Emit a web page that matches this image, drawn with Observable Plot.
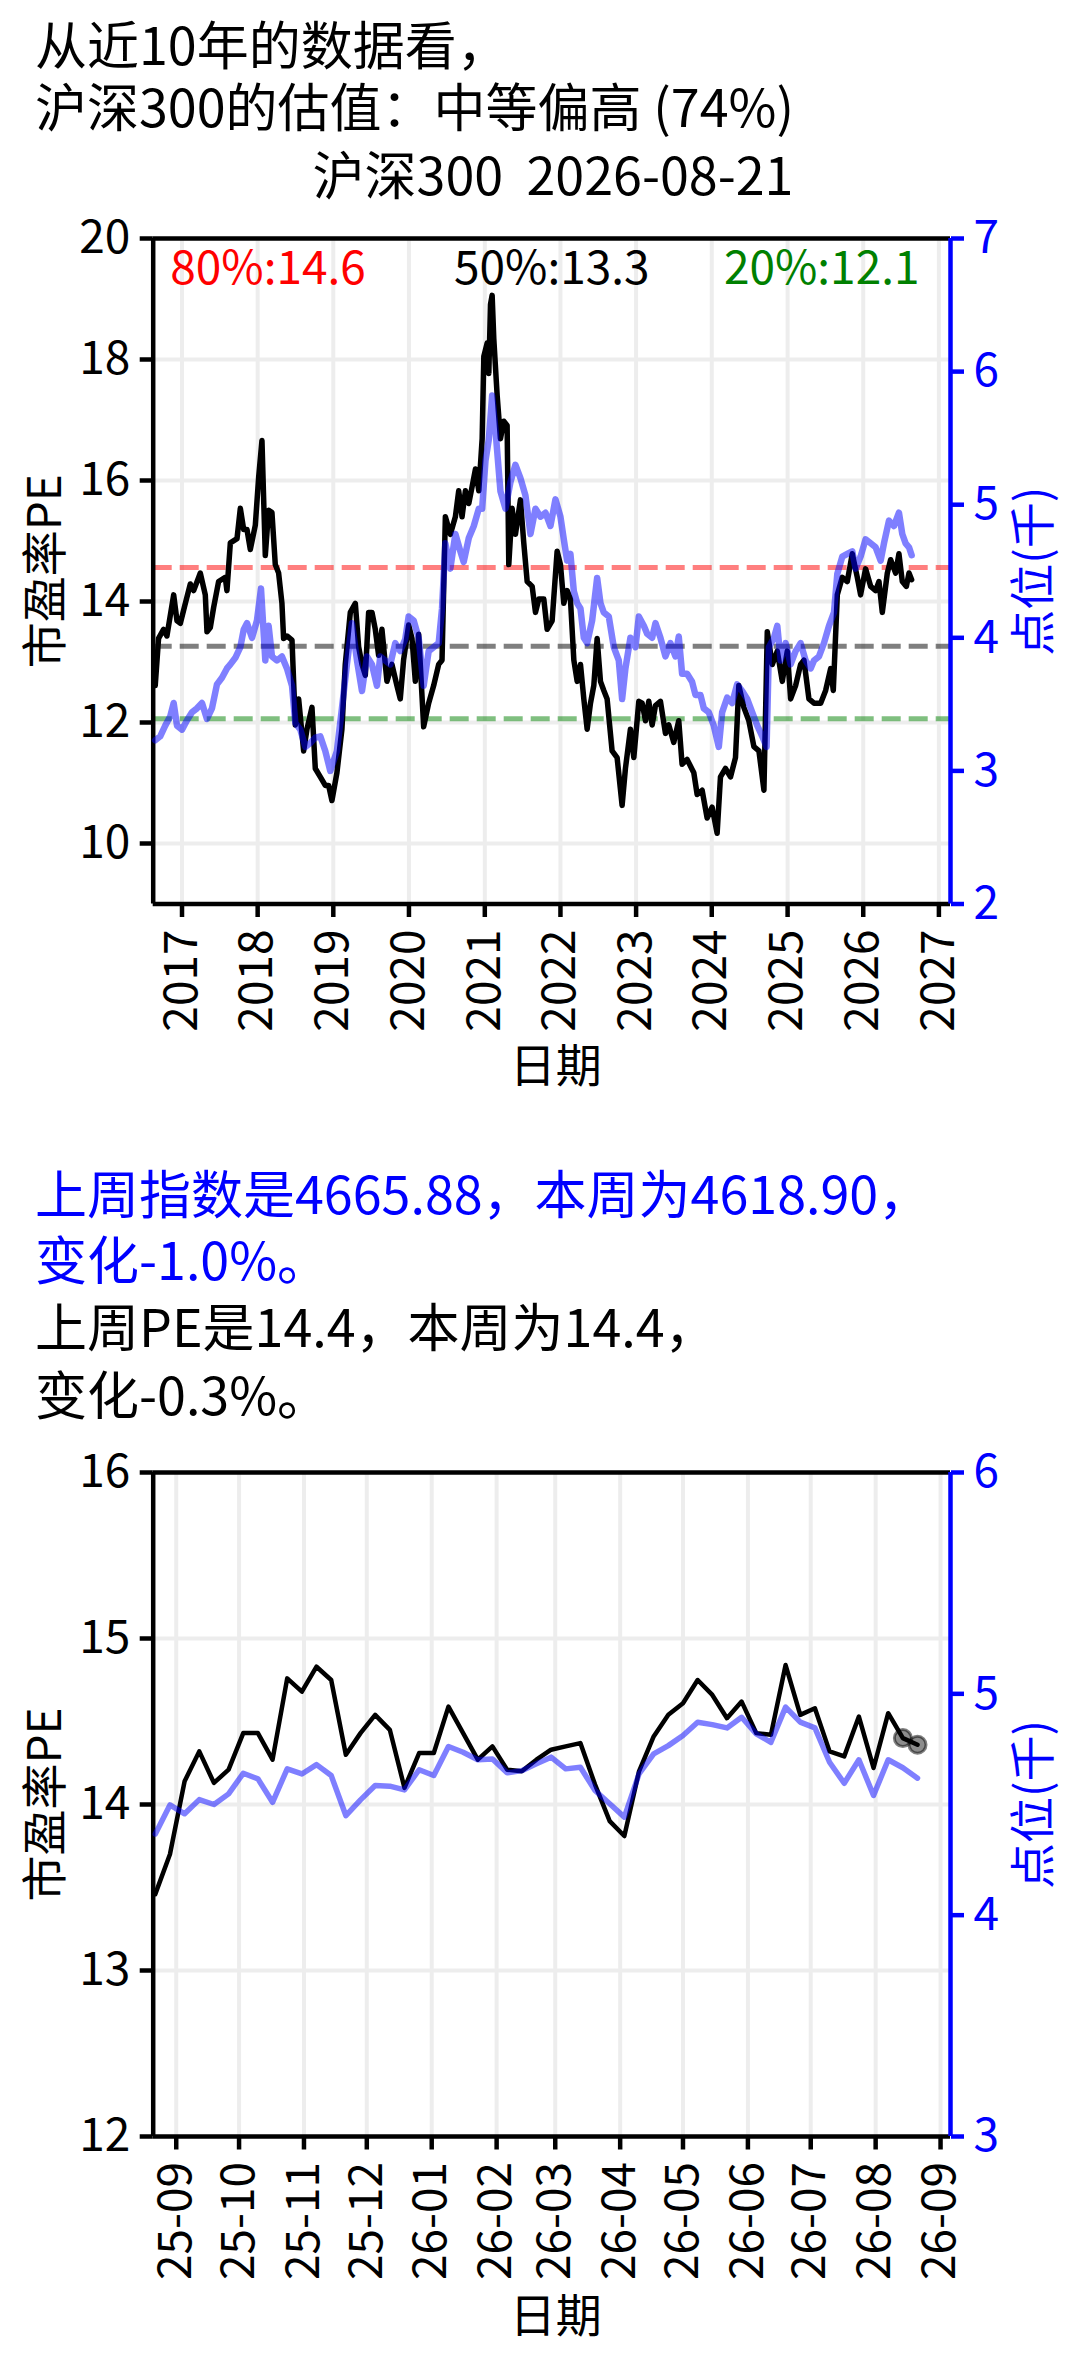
<!DOCTYPE html>
<html>
<head>
<meta charset="utf-8">
<script src="https://cdn.jsdelivr.net/npm/d3@7"></script>
<script src="https://cdn.jsdelivr.net/npm/@observablehq/plot@0.6"></script>
<style>
  html, body { margin: 0; padding: 0; background: #ffffff; }
  #page { position: relative; width: 1080px; height: 2357px; overflow: hidden; background: #ffffff; }
  #page svg { position: absolute; left: 0; }
</style>
</head>
<body>
<div id="page"></div>
<script>
// ---------------- data ----------------
const titleLines = ["从近10年的数据看，", "沪深300的估值：中等偏高 (74%)"];
const chartTitle = "沪深300  2026-08-21";
const noteLines = ["上周指数是4665.88，本周为4618.90，", "变化-1.0%。", "上周PE是14.4，本周为14.4，", "变化-0.3%。"];
const noteColors = ["#0000ff", "#0000ff", "#000000", "#000000"];
const peLabel = "市盈率PE";
const idxLabel = "点位(千)";
const dateLabel = "日期";

// 10-year history: PE (left axis), decimal years
const peYears = [
  2016.647, 2016.691, 2016.757, 2016.801, 2016.890, 2016.934, 2016.978, 2017.044, 2017.110, 2017.154,
  2017.242, 2017.308, 2017.330, 2017.374, 2017.418, 2017.484, 2017.572, 2017.594, 2017.639, 2017.727,
  2017.771, 2017.815, 2017.859, 2017.903, 2017.969, 2018.013, 2018.057, 2018.101, 2018.145, 2018.189,
  2018.233, 2018.277, 2018.321, 2018.343, 2018.387, 2018.454, 2018.498, 2018.542, 2018.608, 2018.652,
  2018.718, 2018.762, 2018.828, 2018.894, 2018.938, 2018.982, 2019.048, 2019.114, 2019.158, 2019.225,
  2019.291, 2019.335, 2019.379, 2019.423, 2019.467, 2019.511, 2019.555, 2019.599, 2019.643, 2019.709,
  2019.775, 2019.841, 2019.885, 2019.929, 2019.996, 2020.040, 2020.084, 2020.128, 2020.194, 2020.260,
  2020.326, 2020.392, 2020.436, 2020.480, 2020.546, 2020.612, 2020.656, 2020.700, 2020.744, 2020.789,
  2020.833, 2020.877, 2020.921, 2020.965, 2020.987, 2021.031, 2021.053, 2021.075, 2021.097, 2021.119,
  2021.163, 2021.207, 2021.251, 2021.295, 2021.317, 2021.361, 2021.405, 2021.471, 2021.515, 2021.560,
  2021.626, 2021.670, 2021.714, 2021.780, 2021.824, 2021.890, 2021.956, 2022.000, 2022.044, 2022.088,
  2022.132, 2022.177, 2022.221, 2022.265, 2022.309, 2022.353, 2022.397, 2022.441, 2022.485, 2022.529,
  2022.573, 2022.617, 2022.683, 2022.749, 2022.815, 2022.859, 2022.925, 2022.970, 2023.036, 2023.080,
  2023.124, 2023.168, 2023.212, 2023.256, 2023.322, 2023.388, 2023.432, 2023.498, 2023.564, 2023.608,
  2023.674, 2023.763, 2023.807, 2023.873, 2023.939, 2024.005, 2024.071, 2024.115, 2024.181, 2024.247,
  2024.313, 2024.357, 2024.423, 2024.489, 2024.556, 2024.622, 2024.688, 2024.732, 2024.798, 2024.864,
  2024.930, 2024.996, 2025.040, 2025.106, 2025.172, 2025.216, 2025.282, 2025.349, 2025.437, 2025.503,
  2025.569, 2025.604, 2025.657, 2025.723, 2025.789, 2025.855, 2025.921, 2025.965, 2026.031, 2026.098,
  2026.164, 2026.208, 2026.252, 2026.318, 2026.362, 2026.428, 2026.472, 2026.516, 2026.570, 2026.605,
  2026.640
];
const peValues = [
  12.61, 13.39, 13.54, 13.43, 14.11, 13.68, 13.64, 13.97, 14.29, 14.18,
  14.47, 14.11, 13.50, 13.57, 13.90, 14.33, 14.40, 14.18, 14.97, 15.04,
  15.54, 15.19, 15.19, 14.86, 15.26, 16.05, 16.66, 14.76, 15.51, 15.47,
  14.61, 14.47, 13.97, 13.39, 13.43, 13.36, 11.96, 12.39, 11.53, 11.89,
  12.25, 11.24, 11.10, 10.96, 10.96, 10.71, 11.17, 11.89, 12.96, 13.82,
  13.97, 13.25, 12.96, 12.78, 13.82, 13.82, 13.54, 13.11, 13.54, 12.68,
  12.96, 12.61, 12.39, 13.03, 13.61, 13.39, 12.68, 13.46, 11.93, 12.32,
  12.61, 12.96, 13.03, 15.40, 15.11, 15.40, 15.83, 15.40, 15.83, 15.62,
  15.90, 16.19, 15.83, 16.69, 18.05, 18.27, 17.77, 18.91, 19.06, 18.34,
  17.41, 16.69, 16.98, 16.91, 14.61, 15.54, 15.11, 15.68, 14.97, 14.33,
  14.25, 13.82, 14.04, 14.04, 13.54, 13.68, 14.83, 14.61, 13.97, 14.18,
  14.04, 13.03, 12.68, 12.96, 12.39, 11.89, 12.32, 12.61, 13.39, 12.68,
  12.53, 12.39, 11.53, 11.42, 10.63, 11.24, 11.89, 11.42, 12.35, 12.32,
  12.03, 12.35, 11.96, 12.28, 12.35, 11.82, 11.96, 11.67, 12.03, 11.31,
  11.39, 11.17, 10.81, 10.88, 10.42, 10.60, 10.17, 11.10, 11.24, 11.10,
  11.42, 12.61, 12.25, 12.03, 11.60, 11.53, 10.88, 13.50, 12.96, 13.18,
  12.68, 13.18, 12.39, 12.61, 12.96, 13.03, 12.39, 12.32, 12.32, 12.53,
  12.89, 12.53, 14.11, 14.40, 14.33, 14.79, 14.40, 14.11, 14.54, 14.25,
  14.18, 14.33, 13.82, 14.47, 14.69, 14.47, 14.79, 14.33, 14.25, 14.47,
  14.36
];

// 10-year history: index level in thousands (right axis)
const idxYears = [
  2016.647, 2016.713, 2016.779, 2016.845, 2016.890, 2016.934, 2017.000, 2017.066, 2017.132, 2017.198,
  2017.264, 2017.330, 2017.396, 2017.462, 2017.528, 2017.594, 2017.639, 2017.705, 2017.771, 2017.815,
  2017.859, 2017.925, 2017.991, 2018.044, 2018.101, 2018.145, 2018.189, 2018.255, 2018.321, 2018.387,
  2018.454, 2018.498, 2018.564, 2018.630, 2018.696, 2018.762, 2018.828, 2018.894, 2018.960, 2019.048,
  2019.114, 2019.180, 2019.247, 2019.313, 2019.379, 2019.445, 2019.511, 2019.577, 2019.621, 2019.687,
  2019.753, 2019.819, 2019.885, 2019.951, 2019.996, 2020.062, 2020.128, 2020.194, 2020.260, 2020.326,
  2020.392, 2020.436, 2020.480, 2020.546, 2020.612, 2020.678, 2020.722, 2020.789, 2020.855, 2020.921,
  2020.965, 2021.009, 2021.053, 2021.097, 2021.141, 2021.207, 2021.273, 2021.339, 2021.405, 2021.471,
  2021.537, 2021.604, 2021.670, 2021.736, 2021.802, 2021.868, 2021.934, 2022.000, 2022.044, 2022.088,
  2022.132, 2022.177, 2022.221, 2022.265, 2022.309, 2022.353, 2022.419, 2022.485, 2022.529, 2022.573,
  2022.639, 2022.705, 2022.771, 2022.815, 2022.859, 2022.925, 2022.992, 2023.036, 2023.102, 2023.146,
  2023.212, 2023.256, 2023.322, 2023.388, 2023.454, 2023.520, 2023.564, 2023.608, 2023.674, 2023.740,
  2023.785, 2023.851, 2023.895, 2023.961, 2024.027, 2024.093, 2024.137, 2024.203, 2024.269, 2024.335,
  2024.401, 2024.467, 2024.534, 2024.600, 2024.666, 2024.723, 2024.754, 2024.820, 2024.864, 2024.908,
  2024.974, 2025.040, 2025.106, 2025.172, 2025.238, 2025.305, 2025.349, 2025.415, 2025.481, 2025.547,
  2025.613, 2025.657, 2025.723, 2025.789, 2025.855, 2025.899, 2025.965, 2026.031, 2026.098, 2026.164,
  2026.230, 2026.274, 2026.340, 2026.406, 2026.472, 2026.516, 2026.560, 2026.605, 2026.640
];
const idxValues = [
  3.23, 3.26, 3.34, 3.41, 3.51, 3.34, 3.31, 3.38, 3.44, 3.47,
  3.51, 3.39, 3.47, 3.65, 3.70, 3.77, 3.80, 3.85, 3.93, 4.06,
  4.11, 4.00, 4.13, 4.37, 3.83, 4.09, 3.86, 3.83, 3.86, 3.77,
  3.64, 3.36, 3.31, 3.18, 3.21, 3.25, 3.26, 3.15, 3.00, 3.15,
  3.47, 3.80, 4.11, 3.83, 3.60, 3.86, 3.80, 3.64, 3.86, 3.83,
  3.80, 3.96, 3.90, 3.99, 4.16, 4.13, 4.00, 3.64, 3.90, 3.93,
  3.96, 4.22, 4.71, 4.52, 4.78, 4.65, 4.57, 4.75, 4.84, 4.97,
  4.97, 5.33, 5.49, 5.82, 5.56, 5.10, 4.97, 5.17, 5.30, 5.20,
  5.07, 4.78, 4.97, 4.91, 4.94, 4.84, 5.04, 4.91, 4.74, 4.58,
  4.63, 4.35, 4.26, 4.22, 4.00, 3.96, 4.13, 4.45, 4.26, 4.19,
  4.16, 3.93, 3.83, 3.54, 3.77, 4.00, 3.93, 4.16, 4.09, 4.03,
  4.00, 4.11, 4.00, 3.86, 3.96, 3.86, 4.01, 3.73, 3.73, 3.67,
  3.57, 3.57, 3.47, 3.44, 3.34, 3.18, 3.44, 3.55, 3.51, 3.65,
  3.60, 3.54, 3.44, 3.34, 3.26, 3.18, 3.93, 4.00, 4.09, 3.83,
  3.96, 3.80, 3.90, 3.96, 3.83, 3.77, 3.83, 3.86, 3.96, 4.09,
  4.19, 4.48, 4.61, 4.63, 4.65, 4.52, 4.61, 4.74, 4.71, 4.68,
  4.58, 4.71, 4.88, 4.84, 4.94, 4.78, 4.71, 4.68, 4.62
];

// percentile lines (PE)
const pctLabels = ["80%", "50%", "20%"];
const pctValues = [14.56, 13.26, 12.06];
const pctColors = ["#ff0000", "#000000", "#008000"];

// ticks
const yearTicks = [2017, 2018, 2019, 2020, 2021, 2022, 2023, 2024, 2025, 2026, 2027];
const peTicksTop = [10, 12, 14, 16, 18, 20];
const idxTicksTop = [2, 3, 4, 5, 6, 7];
const topXDomain = ["2016-08-15", "2027-02-26"];
const topPeDomain = [9, 20];
const topIdxDomain = [2, 7];

// last year, weekly (Fridays)
const weekFirst = "2025-08-22";
const weekPE = [
  13.46, 13.70, 14.14, 14.32, 14.13, 14.21, 14.43, 14.43, 14.27, 14.76,
  14.68, 14.83, 14.75, 14.30, 14.43, 14.54, 14.45, 14.10, 14.31, 14.31,
  14.59, 14.43, 14.27, 14.35, 14.21, 14.20, 14.27, 14.33, 14.35, 14.37,
  14.12, 13.90, 13.81, 14.20, 14.41, 14.54, 14.61, 14.75, 14.66, 14.52,
  14.62, 14.43, 14.42, 14.84, 14.54, 14.58, 14.32, 14.29, 14.53, 14.22,
  14.55, 14.40, 14.36
];
const weekIdx = [
  4.367, 4.498, 4.458, 4.522, 4.500, 4.548, 4.641, 4.616, 4.510, 4.661,
  4.638, 4.680, 4.631, 4.450, 4.521, 4.586, 4.583, 4.566, 4.657, 4.631,
  4.762, 4.736, 4.702, 4.706, 4.643, 4.653, 4.684, 4.714, 4.661, 4.668,
  4.563, 4.503, 4.443, 4.638, 4.729, 4.766, 4.812, 4.872, 4.861, 4.846,
  4.894, 4.819, 4.781, 4.940, 4.872, 4.846, 4.691, 4.596, 4.702, 4.541,
  4.702, 4.666, 4.619
];
const monthTicks = ["2025-09-01", "2025-10-01", "2025-11-01", "2025-12-01", "2026-01-01", "2026-02-01",
  "2026-03-01", "2026-04-01", "2026-05-01", "2026-06-01", "2026-07-01", "2026-08-01", "2026-09-01"];
const peTicksBottom = [12, 13, 14, 15, 16];
const idxTicksBottom = [3, 4, 5, 6];
const bottomXDomain = ["2025-08-21T00:00Z", "2026-09-05T18:00Z"];
const bottomPeDomain = [12, 16];
const bottomIdxDomain = [3, 6];

// ---------------- helpers ----------------
const FONT = '"Noto Sans CJK SC", "Noto Sans", sans-serif';
const GRID = "#ededed";
const BLUE = "#0000ff";
const FS = 46;
const W = 1080, ML = 152.7, MR = 130;
const page = document.getElementById("page");
const intFmt = d3.format("d");

function fromDecimalYear(y) {
  const yr = Math.floor(y);
  const a = Date.UTC(yr, 0, 1), b = Date.UTC(yr + 1, 0, 1);
  return new Date(a + (y - yr) * (b - a));
}
const toDate = (s) => new Date(s.length === 10 ? s + "T00:00Z" : s);

const peRows = peYears.map((y, i) => ({date: fromDecimalYear(y), value: peValues[i]}));
const idxRows = idxYears.map((y, i) => ({date: fromDecimalYear(y), value: idxValues[i]}));
const yearDates = yearTicks.map((y) => new Date(Date.UTC(y, 0, 1)));
const monthDates = monthTicks.map(toDate);
const w0 = toDate(weekFirst).getTime();
const weekDates = weekPE.map((_, i) => new Date(w0 + i * 7 * 864e5));
const weekPeRows = weekPE.map((v, i) => ({date: weekDates[i], value: v}));
const weekIdxRows = weekIdx.map((v, i) => ({date: weekDates[i], value: v}));

function place(svg, top) {
  svg.style.top = top + "px";
  page.appendChild(svg);
}
const baseStyle = {fontFamily: FONT, fontSize: FS + "px", background: "transparent", overflow: "visible", color: "#000"};

// ---------------- titles & notes (plain SVG text) ----------------
const ts = d3.create("svg").attr("width", W).attr("height", 2357)
  .style("font-family", FONT).style("top", "0px");
ts.append("text").attr("x", 35).attr("y", 65).attr("font-size", 52).attr("fill", "#000").text(titleLines[0]);
ts.append("text").attr("x", 35).attr("y", 127).attr("font-size", 52).attr("fill", "#000").text(titleLines[1]);
ts.append("text").attr("x", 553).attr("y", 195).attr("font-size", 52).attr("text-anchor", "middle")
  .attr("fill", "#000").style("white-space", "pre").text(chartTitle);
const noteBase = [1214, 1280, 1347, 1415];
noteLines.forEach((t, i) => {
  ts.append("text").attr("x", 35).attr("y", noteBase[i]).attr("font-size", 52).attr("fill", noteColors[i]).text(t);
});
page.appendChild(ts.node());

// ---------------- chart builder ----------------
function buildChart({top, height, mt, mb, xDomain, peDomain, idxDomain, xTicks, xFormat, peTicks, idxTicks,
                     peGrid, peData, idxData, extraA, dateDy, peWidth, idxWidth}) {
  const x = {type: "utc", domain: xDomain, label: null};
  const common = {width: W, height, marginLeft: ML, marginRight: MR, marginTop: mt, marginBottom: mb, style: baseStyle};

  // layer A : PE (left axis)
  const a = Plot.plot({
    ...common,
    x,
    y: {domain: peDomain, label: null},
    marks: [
      Plot.gridX(xTicks, {stroke: GRID, strokeOpacity: 1, strokeWidth: 4}),
      Plot.gridY(peGrid, {stroke: GRID, strokeOpacity: 1, strokeWidth: 4}),
      ...(extraA.before || []),
      Plot.lineY(peData, {x: "date", y: "value", stroke: "#000000", strokeWidth: peWidth, strokeLinejoin: "round"}),
      ...(extraA.after || []),
      Plot.ruleY([peDomain[0]], {stroke: "#000", strokeWidth: 4.5}),
      Plot.ruleY([peDomain[1]], {stroke: "#000", strokeWidth: 4.5}),
      Plot.ruleX([xDomain[0]], {stroke: "#000", strokeWidth: 4.5}),
      Plot.axisY(peTicks, {anchor: "left", tickSize: 13, tickPadding: 10, strokeWidth: 4.5, fontSize: FS,
        tickFormat: intFmt, label: null}),
      Plot.axisX(xTicks, {anchor: "bottom", tickSize: 13.5, tickPadding: 12, tickRotate: -90,
        tickFormat: d3.utcFormat(xFormat), fontSize: FS, strokeWidth: 4.5, label: null}),
      Plot.text([peLabel], {frameAnchor: "left", dx: -107, rotate: -90, textAnchor: "middle", lineAnchor: "middle",
        fontSize: FS, fill: "#000", text: (d) => d}),
      Plot.text([dateLabel], {frameAnchor: "bottom", dx: 4, dy: dateDy, textAnchor: "middle", lineAnchor: "middle",
        fontSize: FS, fill: "#000", text: (d) => d})
    ]
  });
  place(a, top);

  // layer B : index (right axis)
  const b = Plot.plot({
    ...common,
    x: {...x, axis: null},
    y: {domain: idxDomain, label: null, axis: null},
    marks: [
      Plot.lineY(idxData, {x: "date", y: "value", stroke: BLUE, strokeOpacity: 0.5, strokeWidth: idxWidth, strokeLinejoin: "round"}),
      Plot.ruleX([xDomain[1]], {stroke: BLUE, strokeWidth: 4.5}),
      Plot.axisY(idxTicks, {anchor: "right", tickSize: 13, tickPadding: 10, strokeWidth: 4.5, fontSize: FS,
        tickFormat: intFmt, color: BLUE, stroke: BLUE, fill: BLUE, label: null}),
      Plot.text([idxLabel], {frameAnchor: "right", dx: 84, rotate: -90, textAnchor: "middle", lineAnchor: "middle",
        fontSize: FS, fill: BLUE, text: (d) => d})
    ]
  });
  place(b, top);
}

// ---------------- top chart ----------------
const pctMarks = pctValues.map((v, i) =>
  Plot.ruleY([v], {stroke: pctColors[i], strokeOpacity: 0.5, strokeWidth: 5, strokeDasharray: "19,8"}));
const pctAnchors = ["top-left", "top", "top-right"];
const pctDx = [17, 0, -31];
const pctText = pctValues.map((v, i) =>
  Plot.text([`${pctLabels[i]}:${v.toFixed(1)}`], {frameAnchor: pctAnchors[i], dx: pctDx[i], dy: 13,
    lineAnchor: "top", fill: pctColors[i], fontSize: FS, text: (d) => d}));

buildChart({
  top: 200, height: 900, mt: 38, mb: 196.5,
  xDomain: topXDomain.map(toDate), peDomain: topPeDomain, idxDomain: topIdxDomain,
  xTicks: yearDates, xFormat: "%Y", peTicks: peTicksTop, idxTicks: idxTicksTop,
  peGrid: peTicksTop.filter((t) => t !== topPeDomain[1]),
  peData: peRows, idxData: idxRows,
  extraA: {before: pctMarks, after: pctText},
  dateDy: 163, peWidth: 5.5, idxWidth: 6.5
});

// ---------------- bottom chart ----------------
const lastTwo = weekPeRows.slice(-2);
buildChart({
  top: 1430, height: 900, mt: 42, mb: 194,
  xDomain: bottomXDomain.map(toDate), peDomain: bottomPeDomain, idxDomain: bottomIdxDomain,
  xTicks: monthDates, xFormat: "%y-%m", peTicks: peTicksBottom, idxTicks: idxTicksBottom,
  peGrid: peTicksBottom.filter((t) => t !== bottomPeDomain[0] && t !== bottomPeDomain[1]),
  peData: weekPeRows, idxData: weekIdxRows,
  extraA: {before: [], after: [
    Plot.dot(lastTwo, {x: "date", y: "value", r: 8.5, fill: "#000", fillOpacity: 0.45,
      stroke: "#000", strokeOpacity: 0.5, strokeWidth: 3})
  ]},
  dateDy: 181, peWidth: 4.5, idxWidth: 5.5
});
</script>
</body>
</html>
